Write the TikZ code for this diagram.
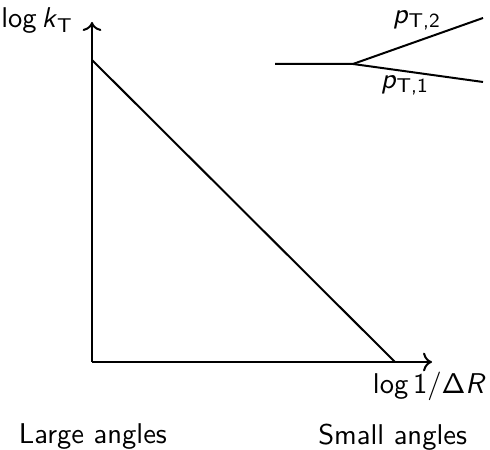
\documentclass[tikz,border=0pt]{standalone}
\usepackage{amsmath}
\usepackage{tikz}
\usetikzlibrary{arrows.meta}

\begin{document}
\begin{tikzpicture}[
    x=0.35pt,
    y=0.35pt,
    line width=0.7pt,
    every node/.style={font=\sffamily, inner sep=0pt}
]
    \useasboundingbox (0,0) rectangle (490,450);

    % --- Axes ---
    \coordinate (O) at (92,88);
    \coordinate (ytip) at (92,428);
    \coordinate (xtip) at (432,88);
    \draw[->] (O) -- (ytip);
    \draw[->] (O) -- (xtip);
    \node[anchor=east] (ylab) at (74,429) {log\,\textit{k}$_{\text{T}}$};
    \node[anchor=east] (xlab) at (487,64) {log\,1/$\mathsf{\Delta}$\textit{R}};

    % --- Boundary line ---
    \coordinate (kmax) at (92,390);
    \coordinate (rmax) at (395,88);
    \draw (kmax) -- (rmax);

    % --- Splitting ---
    \coordinate (in) at (275,386);
    \coordinate (split) at (353,386);
    \coordinate (out2) at (483,432);
    \coordinate (out1) at (483,368);
    \draw (in) -- (split) -- (out2);
    \draw (split) -- (out1);
    \node (p2) at (417,430) {\textit{p}$_{\text{T,2}}$};
    \node (p1) at (405,365) {\textit{p}$_{\text{T,1}}$};

    % --- Angle regions ---
    \node[anchor=west] (large) at (18,13) {Large angles};
    \node[anchor=east] (small) at (468,13) {Small angles};
\end{tikzpicture}
\end{document}
